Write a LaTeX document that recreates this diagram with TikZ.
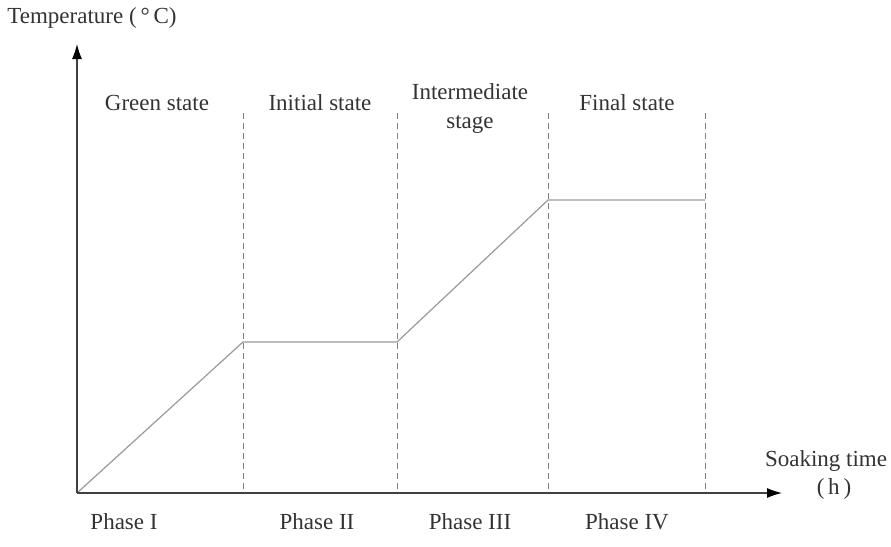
\documentclass[tikz,border=0pt]{standalone}
\usepackage{fontspec}
\setmainfont{Liberation Serif}
\usetikzlibrary{arrows.meta}
\tikzstyle{axis} = [line width=1.2pt,black!75,-{Latex[length=15pt,width=10pt,black]}]
\tikzstyle{phaseline} = [line width=0.9pt,gray,dash pattern=on 6pt off 4pt]
\tikzstyle{profile} = [line width=1.2pt,gray!80]
\tikzstyle{lbl} = [font=\fontsize{23}{26}\selectfont,text=black!80,inner sep=0pt]

\begin{document}
\begin{tikzpicture}[x=1pt,y=-1pt]
		\useasboundingbox (0,0) rectangle (891,546);
		\coordinate (O) at (77,493);
		\coordinate (ytip) at (77,44);
		\coordinate (xtip) at (782,493);
		% phase boundaries
		\foreach \Xc/\Nm in {243/a,397/b,548/c,705/d}
		{
			\coordinate (top\Nm) at (\Xc,113);
			\coordinate (bot\Nm) at (\Xc,493);
			\draw[phaseline] (top\Nm) -- (bot\Nm);
		}
		% temperature profile
		\coordinate (ramp1) at (243,342);
		\coordinate (hold1) at (397,342);
		\coordinate (ramp2) at (548,200);
		\coordinate (hold2) at (705,200);
		\draw[profile] (O) -- (ramp1) -- (hold1) -- (ramp2) -- (hold2);
		\draw[axis] (O) -- (ytip);
		\draw[axis] (O) -- (xtip);
		% axis titles
		\node[lbl] (ytitle) at (92,18) {Temperature (\,°\,C)};
		\node[lbl] (xtitle) at (826,461) {Soaking time};
		\node[lbl] (xunit) at (834,489) {(\,h\,)};
		% states
		\foreach \Xc/\Nm/\Texto in 
		{157/green/Green state,320/initial/Initial state,627/final/Final state}
		{
			\node[lbl] (\Nm) at (\Xc,103) {\Texto};
		}
		\node[lbl,align=center,font=\fontsize{23}{29}\selectfont] (inter) at (470,109) {Intermediate\\stage};
		% phases
		\foreach \Xc/\Nm/\Texto in 
		{124/ph1/Phase I,317/ph2/Phase II,470/ph3/Phase III,627/ph4/Phase IV}
		{
			\node[lbl] (\Nm) at (\Xc,522) {\Texto};
		}
\end{tikzpicture}
\end{document}
